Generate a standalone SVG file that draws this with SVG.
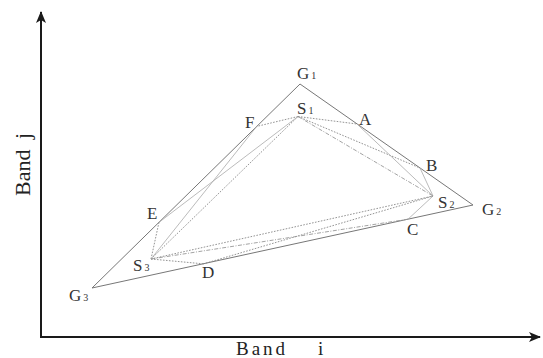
<svg xmlns="http://www.w3.org/2000/svg" width="543" height="358" viewBox="0 0 543 358">
<style>
.ax{stroke:#1a1a1a;stroke-width:2;fill:none}
.edge{stroke:#777;stroke-width:1;fill:none}
.dot{stroke:#888;stroke-width:0.9;stroke-dasharray:1.6,1.4;fill:none}
.dd{stroke:#999;stroke-width:0.9;stroke-dasharray:4,1.5,1,1.5;fill:none}
.lt{stroke:#aaa;stroke-width:0.8;fill:none}
.lb{font-family:"Liberation Serif",serif;font-size:17px;fill:#333}
.sb{font-size:10px}
.axl{font-family:"Liberation Serif",serif;font-size:19px;fill:#222;letter-spacing:3px}
.axv{font-family:"Liberation Serif",serif;font-size:22px;fill:#222}
</style>
<defs>
<marker id="ah" viewBox="0 0 12 10" refX="11" refY="5" markerWidth="12" markerHeight="10" markerUnits="userSpaceOnUse" orient="auto">
<path d="M0,0 L12,5 L0,10 L3,5 Z" fill="#1a1a1a"/>
</marker>
</defs>
<rect width="543" height="358" fill="#fff"/>
<g id="axes">
<path class="ax" d="M41,337 V12" marker-end="url(#ah)"/>
<path class="ax" d="M40,337 H540" marker-end="url(#ah)"/>
<text class="axl" x="236" y="355">Band</text>
<text class="axl" x="318" y="355">i</text>
<text class="axv" transform="translate(30,196) rotate(-90)">Band</text>
<text class="axv" transform="translate(30,139) rotate(-90)">j</text>
</g>
<g id="connectors">
<polygon class="edge" points="300,84 473,205 92,288"/>
<line class="dot" x1="298" y1="116.5" x2="256.7" y2="126.4"/>
<line class="dot" x1="298" y1="116.5" x2="357" y2="124"/>
<line class="dot" x1="298" y1="116.5" x2="420" y2="168"/>
<line class="dd" x1="298" y1="116.5" x2="433" y2="196"/>
<line class="lt" x1="357" y1="124" x2="433" y2="196"/>
<line class="lt" x1="420" y1="168" x2="433" y2="196"/>
<line class="lt" x1="408" y1="219.2" x2="433" y2="196"/>
<line class="dot" x1="151" y1="259" x2="433" y2="196"/>
<line class="dot" x1="203" y1="264" x2="433" y2="196"/>
<line class="dd" x1="151" y1="259" x2="408" y2="219.2"/>
<line class="dot" x1="151" y1="259" x2="203" y2="263.8"/>
<line class="dot" x1="151" y1="259" x2="159" y2="222.3"/>
<line class="dot" x1="151" y1="259" x2="298" y2="116.5"/>
<line class="lt" x1="151" y1="259" x2="256.7" y2="126.4"/>
<line class="lt" x1="159" y1="222.3" x2="298" y2="116.5"/>
</g>
<g id="G1"><text class="lb" x="297" y="79">G<tspan class="sb" dx="2">1</tspan></text></g>
<g id="G2"><text class="lb" x="482" y="215">G<tspan class="sb" dx="2">2</tspan></text></g>
<g id="G3"><text class="lb" x="69" y="301">G<tspan class="sb" dx="2">3</tspan></text></g>
<g id="S1"><text class="lb" x="297" y="114">S<tspan class="sb" dx="2">1</tspan></text></g>
<g id="S2"><text class="lb" x="438" y="208">S<tspan class="sb" dx="2">2</tspan></text></g>
<g id="S3"><text class="lb" x="133" y="270.5">S<tspan class="sb" dx="2">3</tspan></text></g>
<g id="A"><text class="lb" x="359" y="124.5">A</text></g>
<g id="B"><text class="lb" x="426" y="170.5">B</text></g>
<g id="C"><text class="lb" x="407" y="235">C</text></g>
<g id="D"><text class="lb" x="202" y="278.3">D</text></g>
<g id="E"><text class="lb" x="147" y="219">E</text></g>
<g id="F"><text class="lb" x="245" y="128">F</text></g>
</svg>
